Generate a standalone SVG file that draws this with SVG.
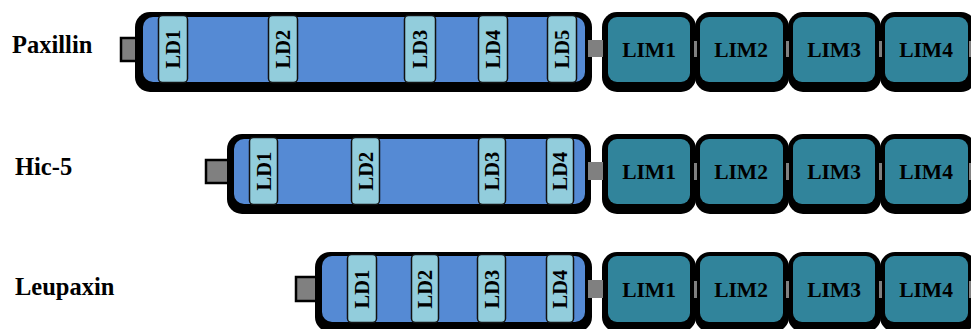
<svg xmlns="http://www.w3.org/2000/svg" width="971" height="329" viewBox="0 0 971 329">
<style>
.lbl{font-family:"Liberation Serif","Times New Roman",serif;font-weight:bold;font-size:24.5px;fill:#000}
.shadow{fill:#000}
.body{fill:#558ad4}
.ld{fill:#92cddc;stroke:#111;stroke-width:1.5}
.ldt{font-family:"Liberation Serif","Times New Roman",serif;font-weight:bold;font-size:20.5px;fill:#000;text-anchor:middle;dominant-baseline:central}
.lim{fill:#31849b}
.limt{font-family:"Liberation Serif","Times New Roman",serif;font-weight:bold;font-size:21.5px;fill:#000;text-anchor:middle;dominant-baseline:central}
.nt{fill:#808080;stroke:#000;stroke-width:2.5}
.lk{fill:#808080}
</style>

<!-- Row 1: Paxillin -->
<g id="paxillin">
<text class="lbl" x="12" y="53">Paxillin</text>
<g id="pax-nterm"><rect class="nt" x="121" y="38" width="17" height="23"/></g>
<g id="pax-body">
<rect class="shadow" x="135" y="12" width="457" height="80" rx="15"/>
<rect class="body" x="143" y="17" width="442" height="65" rx="10"/>
</g>
<g id="pax-ld1"><rect class="ld" x="158.5" y="15.5" width="29" height="67" rx="4"/><text class="ldt" transform="rotate(-90 173 49)" x="173" y="49">LD1</text></g>
<g id="pax-ld2"><rect class="ld" x="268.5" y="15.5" width="29" height="67" rx="4"/><text class="ldt" transform="rotate(-90 283 49)" x="283" y="49">LD2</text></g>
<g id="pax-ld3"><rect class="ld" x="404.5" y="15.5" width="31" height="67" rx="4"/><text class="ldt" transform="rotate(-90 420 49)" x="420" y="49">LD3</text></g>
<g id="pax-ld4"><rect class="ld" x="478.5" y="15.5" width="29" height="67" rx="4"/><text class="ldt" transform="rotate(-90 493 49)" x="493" y="49">LD4</text></g>
<g id="pax-ld5"><rect class="ld" x="547.5" y="15.5" width="29" height="67" rx="4"/><text class="ldt" transform="rotate(-90 562 49)" x="562" y="49">LD5</text></g>
<g id="pax-lim1"><rect class="shadow" x="602" y="12" width="94" height="80" rx="15"/><rect class="lim" x="608" y="17" width="82" height="65" rx="9"/><text class="limt" x="649" y="50">LIM1</text></g>
<g id="pax-lim2"><rect class="shadow" x="695" y="12" width="94" height="80" rx="15"/><rect class="lim" x="700" y="17" width="83" height="65" rx="9"/><text class="limt" x="741" y="50">LIM2</text></g>
<g id="pax-lim3"><rect class="shadow" x="788" y="12" width="93" height="80" rx="15"/><rect class="lim" x="793" y="17" width="82" height="65" rx="9"/><text class="limt" x="834" y="50">LIM3</text></g>
<g id="pax-lim4"><rect class="shadow" x="880" y="12" width="96" height="80" rx="15"/><rect class="lim" x="885" y="17" width="83" height="65" rx="9"/><text class="limt" x="926" y="50">LIM4</text></g>
</g>

<!-- Row 2: Hic-5 -->
<g id="hic5">
<text class="lbl" x="15" y="175">Hic-5</text>
<g id="hic-nterm"><rect class="nt" x="206" y="160" width="24" height="23"/></g>
<g id="hic-body">
<rect class="shadow" x="227" y="134" width="364" height="80" rx="15"/>
<rect class="body" x="234" y="139" width="351" height="65" rx="10"/>
</g>
<g id="hic-ld1"><rect class="ld" x="249.5" y="137.5" width="28" height="67" rx="4"/><text class="ldt" transform="rotate(-90 263.5 171)" x="263.5" y="171">LD1</text></g>
<g id="hic-ld2"><rect class="ld" x="351.5" y="137.5" width="28" height="67" rx="4"/><text class="ldt" transform="rotate(-90 365.5 171)" x="365.5" y="171">LD2</text></g>
<g id="hic-ld3"><rect class="ld" x="478.5" y="137.5" width="27" height="67" rx="4"/><text class="ldt" transform="rotate(-90 492 171)" x="492" y="171">LD3</text></g>
<g id="hic-ld4"><rect class="ld" x="546.5" y="137.5" width="27" height="67" rx="4"/><text class="ldt" transform="rotate(-90 560 171)" x="560" y="171">LD4</text></g>
<g id="hic-lim1"><rect class="shadow" x="602" y="134" width="94" height="80" rx="15"/><rect class="lim" x="608" y="139" width="82" height="65" rx="9"/><text class="limt" x="649" y="172">LIM1</text></g>
<g id="hic-lim2"><rect class="shadow" x="695" y="134" width="94" height="80" rx="15"/><rect class="lim" x="700" y="139" width="83" height="65" rx="9"/><text class="limt" x="741" y="172">LIM2</text></g>
<g id="hic-lim3"><rect class="shadow" x="788" y="134" width="93" height="80" rx="15"/><rect class="lim" x="793" y="139" width="82" height="65" rx="9"/><text class="limt" x="834" y="172">LIM3</text></g>
<g id="hic-lim4"><rect class="shadow" x="880" y="134" width="96" height="80" rx="15"/><rect class="lim" x="885" y="139" width="83" height="65" rx="9"/><text class="limt" x="926" y="172">LIM4</text></g>
</g>

<!-- Row 3: Leupaxin -->
<g id="leupaxin">
<text class="lbl" x="15" y="295">Leupaxin</text>
<g id="leu-nterm"><rect class="nt" x="296" y="277" width="22" height="24"/></g>
<g id="leu-body">
<rect class="shadow" x="315" y="252" width="277" height="80" rx="15"/>
<rect class="body" x="322" y="256" width="263" height="66" rx="10"/>
</g>
<g id="leu-ld1"><rect class="ld" x="347.5" y="254.5" width="29" height="68" rx="4"/><text class="ldt" transform="rotate(-90 362 289)" x="362" y="289">LD1</text></g>
<g id="leu-ld2"><rect class="ld" x="411.5" y="254.5" width="27" height="68" rx="4"/><text class="ldt" transform="rotate(-90 425 289)" x="425" y="289">LD2</text></g>
<g id="leu-ld3"><rect class="ld" x="477.5" y="254.5" width="28" height="68" rx="4"/><text class="ldt" transform="rotate(-90 491.5 289)" x="491.5" y="289">LD3</text></g>
<g id="leu-ld4"><rect class="ld" x="546.5" y="254.5" width="27" height="68" rx="4"/><text class="ldt" transform="rotate(-90 560 289)" x="560" y="289">LD4</text></g>
<g id="leu-lim1"><rect class="shadow" x="602" y="252" width="94" height="80" rx="15"/><rect class="lim" x="608" y="256" width="82" height="66" rx="9"/><text class="limt" x="649" y="290">LIM1</text></g>
<g id="leu-lim2"><rect class="shadow" x="695" y="252" width="94" height="80" rx="15"/><rect class="lim" x="700" y="256" width="83" height="66" rx="9"/><text class="limt" x="741" y="290">LIM2</text></g>
<g id="leu-lim3"><rect class="shadow" x="788" y="252" width="93" height="80" rx="15"/><rect class="lim" x="793" y="256" width="82" height="66" rx="9"/><text class="limt" x="834" y="290">LIM3</text></g>
<g id="leu-lim4"><rect class="shadow" x="880" y="252" width="96" height="80" rx="15"/><rect class="lim" x="885" y="256" width="83" height="66" rx="9"/><text class="limt" x="926" y="290">LIM4</text></g>
</g>

<!-- Linkers -->
<g id="connectors">
<rect class="lk" x="588" y="40" width="15" height="17"/>
<rect class="lk" x="694" y="41" width="3" height="16"/>
<rect class="lk" x="786" y="41" width="3" height="16"/>
<rect class="lk" x="879" y="41" width="3" height="16"/>
<rect class="lk" x="969" y="41" width="2" height="16"/>
<rect class="lk" x="588" y="162" width="15" height="18"/>
<rect class="lk" x="694" y="163" width="3" height="17"/>
<rect class="lk" x="786" y="163" width="3" height="17"/>
<rect class="lk" x="879" y="163" width="3" height="17"/>
<rect class="lk" x="969" y="163" width="2" height="17"/>
<rect class="lk" x="588" y="280" width="15" height="18"/>
<rect class="lk" x="694" y="281" width="3" height="17"/>
<rect class="lk" x="786" y="281" width="3" height="17"/>
<rect class="lk" x="879" y="281" width="3" height="17"/>
<rect class="lk" x="969" y="281" width="2" height="17"/>
</g>
</svg>
